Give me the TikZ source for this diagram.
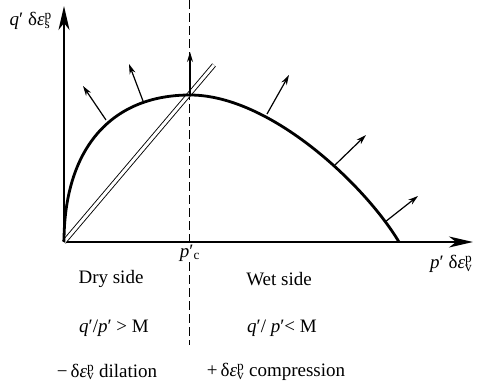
\documentclass[tikz,border=0pt]{standalone}
\usepackage{fontspec}
\setmainfont{Liberation Serif}
\usetikzlibrary{arrows.meta}
\newcommand{\sps}[2]{\rlap{\textsuperscript{#1}}\textsubscript{#2}}
\newcommand{\deps}[1]{δ\textit{ε}\sps{p}{#1}}
\begin{document}
\begin{tikzpicture}[x=1pt,y=-1pt,
  axis/.style={line width=1.8pt,-{Stealth[length=24pt,width=11pt,inset=7pt]}},
  normal/.style={line width=1.2pt,-{Stealth[length=10pt,width=6pt]}},
  curve/.style={line width=2.8pt},
  dashline/.style={line width=1pt,dash pattern=on 9pt off 4pt},
  lbl/.style={font=\fontsize{19}{21}\selectfont, inner sep=0pt}]
\useasboundingbox (0,0) rectangle (485,388);
% axes
\coordinate (O) at (64,242);
\coordinate (ytop) at (64,6);
\coordinate (xend) at (473,242);
\draw[axis] (O) -- (ytop);
\draw[axis] (O) -- (xend);
% dashed line
\coordinate (dtop) at (189,0);
\coordinate (dmid1) at (189,246);
\coordinate (dmid2) at (189,262);
\coordinate (dbot) at (189,345);
\draw[dashline] (dtop) -- (dmid1);
\draw[dashline] (dmid2) -- (dbot);
% double line
\coordinate (csl) at (214,65);
\draw[double, double distance=3pt, line width=0.9pt] (O) -- (csl);
% yield curve
\coordinate (peak) at (190,95);
\coordinate (pend) at (399,242);
\draw[curve] (O) .. controls (64,150) and (110,95) .. (peak)
  .. controls (270,95) and (365,185) .. (pend);
% normals
\coordinate (n1a) at (106,120); \coordinate (n1b) at (83,86);
\coordinate (n2a) at (143,101); \coordinate (n2b) at (129,64);
\coordinate (n3b) at (190,52);
\coordinate (n4a) at (267,114); \coordinate (n4b) at (289,75);
\coordinate (n5a) at (335,165); \coordinate (n5b) at (366,135);
\coordinate (n6a) at (385,222); \coordinate (n6b) at (418,196);
\draw[normal] (n1a) -- (n1b);
\draw[normal] (n2a) -- (n2b);
\draw[normal] (peak) -- (n3b);
\draw[normal] (n4a) -- (n4b);
\draw[normal] (n5a) -- (n5b);
\draw[normal] (n6a) -- (n6b);
% labels
\node[lbl] (ylab) at (30,21) {\textit{q}′ \deps{s}};
\node[lbl,anchor=west] (xlab) at (430,264) {\textit{p}′ \deps{v}};
\node[lbl] (pc) at (190,253) {\textit{p}′\textsubscript{c}};
\node[lbl] (dry) at (111,279) {Dry side};
\node[lbl] (wet) at (279,279) {Wet side};
\node[lbl] (qdry) at (114,328) {\textit{q}′/\textit{p}′ > M};
\node[lbl] (qwet) at (282,328) {\textit{q}′/ \textit{p}′< M};
\node[lbl] (dil) at (107,372) {−\,\deps{v} dilation};
\node[lbl] (comp) at (276,372) {+\,\deps{v} compression};
\end{tikzpicture}
\end{document}
